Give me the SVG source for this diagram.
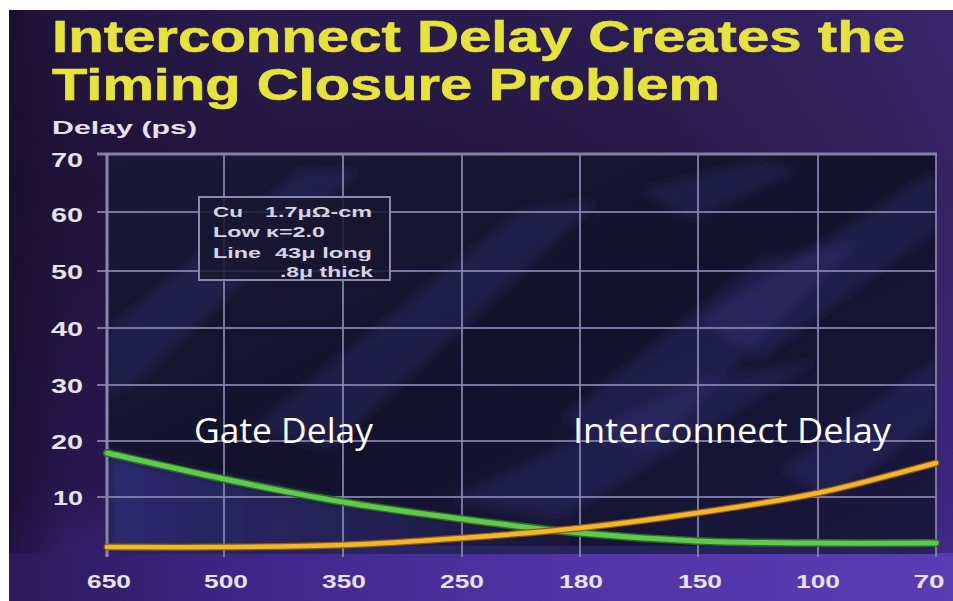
<svg xmlns="http://www.w3.org/2000/svg" width="953" height="601" viewBox="0 0 953 601">
<defs>
<linearGradient id="bgV" x1="0" y1="0" x2="0" y2="1">
<stop offset="0" stop-color="#2a1b4e"/>
<stop offset="0.3" stop-color="#24173f"/>
<stop offset="0.8" stop-color="#2e1d5e"/>
<stop offset="1" stop-color="#4a2e9c"/>
</linearGradient>
<linearGradient id="bgH" x1="0" y1="0" x2="1" y2="0">
<stop offset="0" stop-color="#120a24" stop-opacity="0.7"/>
<stop offset="0.06" stop-color="#120a24" stop-opacity="0.3"/>
<stop offset="0.3" stop-color="#120a24" stop-opacity="0"/>
<stop offset="1" stop-color="#6a48c8" stop-opacity="0.25"/>
</linearGradient>
<linearGradient id="bottomBand" x1="0" y1="0" x2="1" y2="0">
<stop offset="0" stop-color="#2a1a58"/>
<stop offset="0.25" stop-color="#3e2688"/>
<stop offset="0.6" stop-color="#5234a6"/>
<stop offset="1" stop-color="#5b3cb2"/>
</linearGradient>
<linearGradient id="plotBg" x1="0" y1="0" x2="1" y2="1">
<stop offset="0" stop-color="#1a1836"/>
<stop offset="0.5" stop-color="#13122a"/>
<stop offset="1" stop-color="#1a1840"/>
</linearGradient>
<linearGradient id="lowLeft" x1="0" y1="0" x2="1" y2="0">
<stop offset="0" stop-color="#2e2b72" stop-opacity="0.95"/>
<stop offset="0.6" stop-color="#2a2766" stop-opacity="0.6"/>
<stop offset="1" stop-color="#2a2766" stop-opacity="0"/>
</linearGradient>
<filter id="soft" x="-10%" y="-10%" width="120%" height="120%"><feGaussianBlur stdDeviation="6"/></filter>
<clipPath id="plotClip"><rect x="107" y="154" width="829" height="400"/></clipPath>
<style>
.title{font-family:"Liberation Sans",Arial,sans-serif;font-weight:bold;font-size:45px;fill:#e6e33a;stroke:#e6e33a;stroke-width:0.6}
.axis{font-family:"Liberation Sans",Arial,sans-serif;font-weight:bold;fill:#e4e2ec}
.ylab{font-size:20px;text-anchor:end}
.xlab{font-size:19px;text-anchor:middle}
.grid{stroke:#8a86b2;stroke-width:2;opacity:0.85}
.legend{font-family:"Liberation Sans",Arial,sans-serif;font-weight:bold;font-size:15px;fill:#d6d4e2}
.series{font-family:"Open Sans","Noto Sans",sans-serif;font-size:34px;fill:#ffffff}
.streak{fill:#3a3688;opacity:0.3}
</style>
</defs>

<rect x="0" y="0" width="953" height="601" fill="#ffffff"/>
<g id="background">
<rect x="9" y="10" width="944" height="591" fill="url(#bgV)"/>
<rect x="9" y="10" width="944" height="591" fill="url(#bgH)"/>
<rect x="9" y="553" width="944" height="48" fill="url(#bottomBand)"/>
<rect x="936" y="380" width="17" height="173" fill="#3a2580" opacity="0.6"/>
</g>

<g id="plot-area" clip-path="url(#plotClip)">
<rect x="107" y="154" width="829" height="400" fill="url(#plotBg)"/>
<g filter="url(#soft)">
<polygon class="streak" points="107,330 300,170 360,170 140,380 107,400"/>
<polygon class="streak" points="250,430 520,210 600,200 330,450"/>
<polygon class="streak" points="560,420 760,260 860,240 650,450"/>
<polygon class="streak" points="700,320 936,170 936,230 760,360"/>
<polygon class="streak" points="450,500 700,380 820,360 560,520"/>
<polygon class="streak" points="780,470 936,360 936,420 830,500"/>
<polygon class="streak" points="640,190 760,160 800,170 690,220"/>
<polygon points="107,453 224,479 343,502 462,519 600,535 600,554 107,554" fill="url(#lowLeft)"/>
</g>
<rect x="107" y="546" width="829" height="8" fill="#2a2568" opacity="0.8"/>
</g>

<g id="grid">
<line class="grid" x1="97" y1="212" x2="936" y2="212"/>
<line class="grid" x1="97" y1="271" x2="936" y2="271"/>
<line class="grid" x1="97" y1="328" x2="936" y2="328"/>
<line class="grid" x1="97" y1="385" x2="936" y2="385"/>
<line class="grid" x1="97" y1="441" x2="936" y2="441"/>
<line class="grid" x1="97" y1="497" x2="936" y2="497"/>
<line class="grid" x1="224" y1="154" x2="224" y2="557"/>
<line class="grid" x1="343" y1="154" x2="343" y2="557"/>
<line class="grid" x1="462" y1="154" x2="462" y2="557"/>
<line class="grid" x1="580" y1="154" x2="580" y2="557"/>
<line class="grid" x1="698" y1="154" x2="698" y2="557"/>
<line class="grid" x1="818" y1="154" x2="818" y2="557"/>
<line class="grid" x1="936" y1="154" x2="936" y2="557"/>
<line x1="97" y1="154" x2="937" y2="154" stroke="#8480aa" stroke-width="3"/>
<line x1="107" y1="153" x2="107" y2="557" stroke="#8a86b2" stroke-width="3"/>
</g>

<g id="title">
<text class="title" x="52" y="52" textLength="853" lengthAdjust="spacingAndGlyphs">Interconnect Delay Creates the</text>
<text class="title" x="52" y="100" textLength="668" lengthAdjust="spacingAndGlyphs">Timing Closure Problem</text>
</g>

<g id="y-axis">
<text class="axis" x="52" y="134" font-size="18" textLength="145" lengthAdjust="spacingAndGlyphs">Delay (ps)</text>
<text class="axis ylab" x="83" y="167" textLength="32" lengthAdjust="spacingAndGlyphs">70</text>
<text class="axis ylab" x="83" y="222" textLength="32" lengthAdjust="spacingAndGlyphs">60</text>
<text class="axis ylab" x="83" y="279" textLength="32" lengthAdjust="spacingAndGlyphs">50</text>
<text class="axis ylab" x="83" y="336" textLength="32" lengthAdjust="spacingAndGlyphs">40</text>
<text class="axis ylab" x="83" y="393" textLength="32" lengthAdjust="spacingAndGlyphs">30</text>
<text class="axis ylab" x="83" y="449" textLength="32" lengthAdjust="spacingAndGlyphs">20</text>
<text class="axis ylab" x="83" y="505" textLength="30" lengthAdjust="spacingAndGlyphs">10</text>
</g>

<g id="x-axis">
<text class="axis xlab" x="109" y="588" textLength="44" lengthAdjust="spacingAndGlyphs">650</text>
<text class="axis xlab" x="226" y="588" textLength="44" lengthAdjust="spacingAndGlyphs">500</text>
<text class="axis xlab" x="344" y="588" textLength="44" lengthAdjust="spacingAndGlyphs">350</text>
<text class="axis xlab" x="462" y="588" textLength="44" lengthAdjust="spacingAndGlyphs">250</text>
<text class="axis xlab" x="581" y="588" textLength="44" lengthAdjust="spacingAndGlyphs">180</text>
<text class="axis xlab" x="700" y="588" textLength="44" lengthAdjust="spacingAndGlyphs">150</text>
<text class="axis xlab" x="818" y="588" textLength="44" lengthAdjust="spacingAndGlyphs">100</text>
<text class="axis xlab" x="929" y="588" textLength="31" lengthAdjust="spacingAndGlyphs">70</text>
</g>

<g id="legend-box">
<rect x="199" y="197" width="191" height="83" fill="#17162e" fill-opacity="0.85" stroke="#8c89a8" stroke-width="2"/>
<text class="legend" x="213" y="217" font-size="16" textLength="30" lengthAdjust="spacingAndGlyphs">Cu</text>
<text class="legend" x="265" y="217" textLength="107" lengthAdjust="spacingAndGlyphs">1.7μΩ-cm</text>
<text class="legend" x="213" y="237" textLength="112" lengthAdjust="spacingAndGlyphs">Low κ=2.0</text>
<text class="legend" x="213" y="258" textLength="48" lengthAdjust="spacingAndGlyphs">Line</text>
<text class="legend" x="275" y="258" textLength="97" lengthAdjust="spacingAndGlyphs">43μ long</text>
<text class="legend" x="280" y="277" textLength="93" lengthAdjust="spacingAndGlyphs">.8μ thick</text>
</g>

<g id="connectors" fill="none" stroke-linecap="round">
<g id="gate-delay-curve">
<path d="M107,453 C126.5,457.3 184.7,470.8 224,479 C263.3,487.2 303.3,495.3 343,502 C382.7,508.7 422.5,513.8 462,519 C501.5,524.2 540.8,529.3 580,533 C619.2,536.7 657.3,539.3 697,541 C736.7,542.7 778.2,542.7 818,543 C857.8,543.3 916.3,543 936,543" stroke="#2f6a2a" stroke-width="8"/>
<path d="M107,453 C126.5,457.3 184.7,470.8 224,479 C263.3,487.2 303.3,495.3 343,502 C382.7,508.7 422.5,513.8 462,519 C501.5,524.2 540.8,529.3 580,533 C619.2,536.7 657.3,539.3 697,541 C736.7,542.7 778.2,542.7 818,543 C857.8,543.3 916.3,543 936,543" stroke="#5fca4c" stroke-width="5"/>
</g>
<g id="interconnect-delay-curve">
<path d="M107,547 C126.5,547 184.7,547.3 224,547 C263.3,546.7 303.3,546.5 343,545 C382.7,543.5 422.5,540.8 462,538 C501.5,535.2 540.8,532.2 580,528 C619.2,523.8 657.3,518.8 697,513 C736.7,507.2 778.2,501.3 818,493 C857.8,484.7 916.3,468 936,463" stroke="#8a5a18" stroke-width="7"/>
<path d="M107,547 C126.5,547 184.7,547.3 224,547 C263.3,546.7 303.3,546.5 343,545 C382.7,543.5 422.5,540.8 462,538 C501.5,535.2 540.8,532.2 580,528 C619.2,523.8 657.3,518.8 697,513 C736.7,507.2 778.2,501.3 818,493 C857.8,484.7 916.3,468 936,463" stroke="#f2b62c" stroke-width="4.5"/>
</g>
</g>

<g id="series-labels">
<text class="series" x="194" y="443" textLength="179" lengthAdjust="spacingAndGlyphs">Gate Delay</text>
<text class="series" x="573" y="443" textLength="318" lengthAdjust="spacingAndGlyphs">Interconnect Delay</text>
</g>
</svg>
